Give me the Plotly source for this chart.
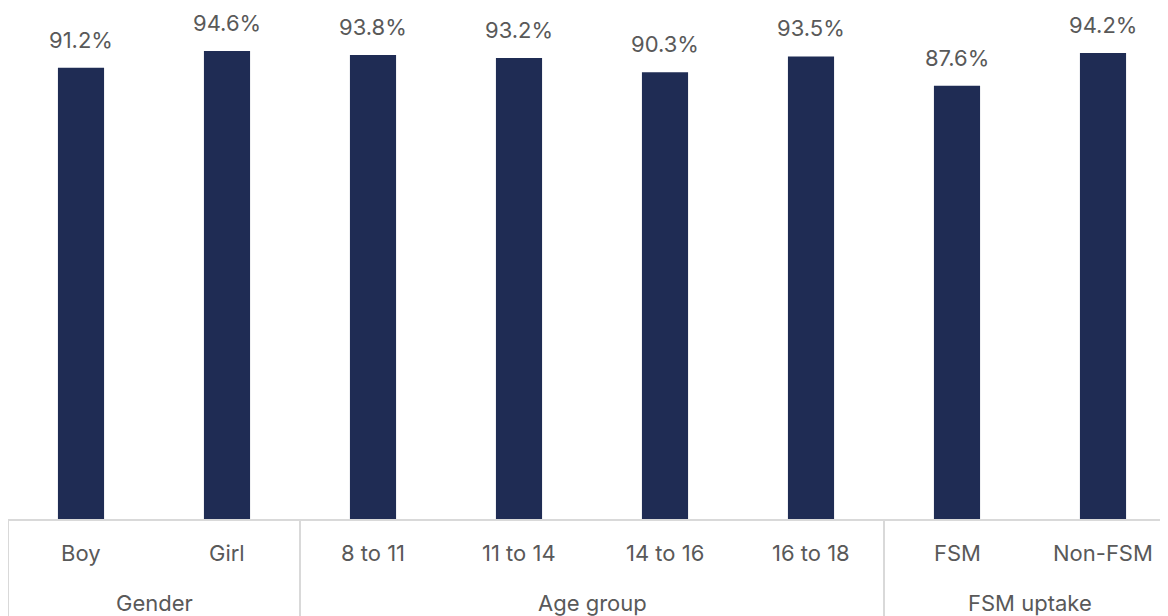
import plotly.graph_objects as go

groups = ["Gender", "Gender", "Age group", "Age group", "Age group", "Age group", "FSM uptake", "FSM uptake"]
categories = ["Boy", "Girl", "8 to 11", "11 to 14", "14 to 16", "16 to 18", "FSM", "Non-FSM"]
values = [0.912, 0.946, 0.938, 0.932, 0.903, 0.935, 0.876, 0.942]

TEXT = "#595959"
LINE = "#d9d9d9"
FONT = "Inter, Lato, sans-serif"
FS = 22

fig = go.Figure(go.Bar(
    x=categories,
    y=values,
    marker=dict(color="#1f2c54", line=dict(width=0)),
    width=0.316,
    hoverinfo="x+y",
))

ann = []
for c, v in zip(categories, values):
    ann.append(dict(x=c, y=v, xref="x", yref="y", text=f"{v*100:.1f}%",
                    showarrow=False, yanchor="bottom", yshift=13,
                    font=dict(size=FS, color=TEXT)))
    ann.append(dict(x=c, y=0, xref="x", yref="paper", text=c,
                    showarrow=False, yanchor="middle", yshift=-34,
                    font=dict(size=FS, color=TEXT)))

shapes = []
start = 0
bounds = [-0.5]
for i in range(1, len(groups) + 1):
    if i == len(groups) or groups[i] != groups[start]:
        mid = (start + i - 1) / 2
        ann.append(dict(x=mid, y=0, xref="x", yref="paper", text=groups[start],
                        showarrow=False, yanchor="middle", yshift=-84,
                        font=dict(size=FS, color=TEXT)))
        bounds.append(i - 0.5)
        start = i
for b in bounds:
    shapes.append(dict(type="line", xref="x", yref="paper", x0=b, x1=b, y0=0, y1=-0.25,
                       line=dict(color=LINE, width=2)))

fig.update_layout(
    width=1168, height=616,
    margin=dict(l=0, r=0, t=0, b=105),
    paper_bgcolor="white", plot_bgcolor="white",
    font=dict(family=FONT, size=FS, color=TEXT),
    showlegend=False,
    annotations=ann,
    shapes=shapes,
)
fig.update_xaxes(
    type="category",
    showline=True, linecolor=LINE, linewidth=2,
    showticklabels=False, ticks="",
    showgrid=False,
    range=[-0.5, 7.5],
)
fig.update_yaxes(range=[0, 1.033], visible=False)

fig.write_html("out.html")
